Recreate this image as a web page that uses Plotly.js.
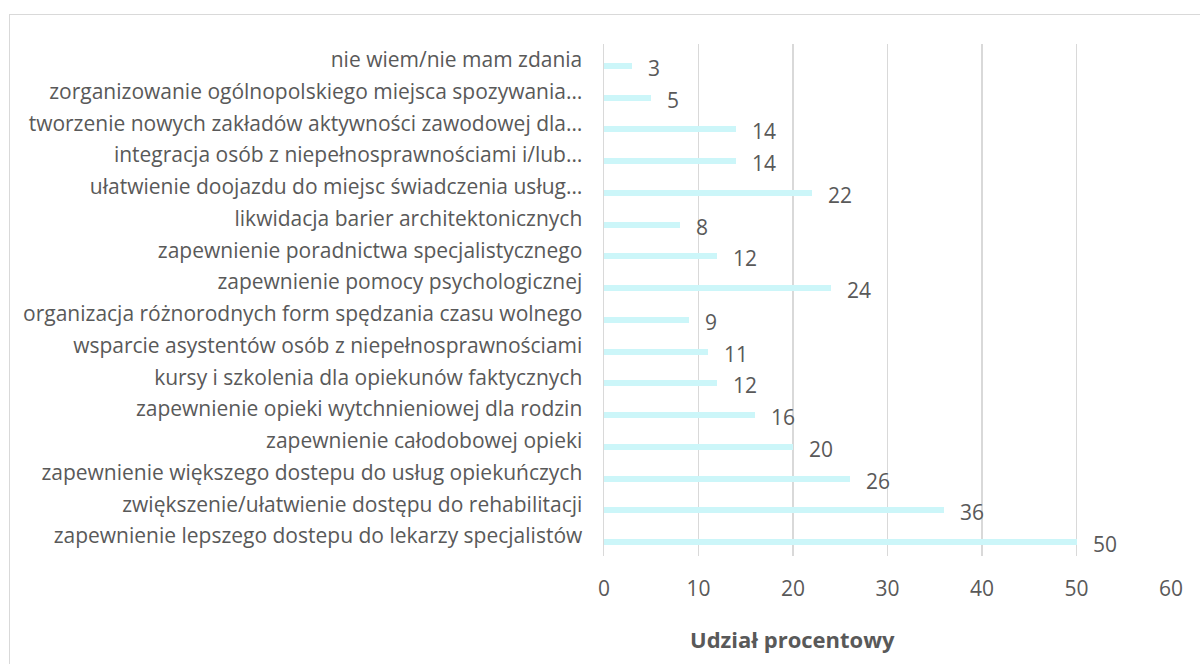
<!DOCTYPE html>
<html>
<head>
<meta charset="utf-8">
<script src="https://cdn.plot.ly/plotly-3.0.1.min.js"></script>
<style>
html,body{margin:0;padding:0;background:#fff;}
#wrap{position:relative;width:1200px;height:664px;overflow:hidden;}
#chart{position:absolute;left:0;top:0;width:1200px;height:664px;}
#frame{position:absolute;left:9px;top:14px;width:1200px;height:700px;border:1px solid #d9d9d9;pointer-events:none;}
</style>
</head>
<body>
<div id="wrap"><div id="chart"></div><div id="frame"></div></div>
<script>
const categories = [
  "nie wiem/nie mam zdania",
  "zorganizowanie ogólnopolskiego miejsca spozywania…",
  "tworzenie nowych zakładów aktywności zawodowej dla…",
  "integracja osób z niepełnosprawnościami i/lub…",
  "ułatwienie doojazdu do miejsc świadczenia usług…",
  "likwidacja barier architektonicznych",
  "zapewnienie poradnictwa specjalistycznego",
  "zapewnienie pomocy psychologicznej",
  "organizacja różnorodnych form spędzania czasu wolnego",
  "wsparcie asystentów osób z niepełnosprawnościami",
  "kursy i szkolenia dla opiekunów faktycznych",
  "zapewnienie opieki wytchnieniowej dla rodzin",
  "zapewnienie całodobowej opieki",
  "zapewnienie większego dostepu do usług opiekuńczych",
  "zwiększenie/ułatwienie dostępu do rehabilitacji",
  "zapewnienie lepszego dostepu do lekarzy specjalistów"
];
const values = [3, 5, 14, 14, 22, 8, 12, 24, 9, 11, 12, 16, 20, 26, 36, 50];
const xTicks = [0, 10, 20, 30, 40, 50, 60];
const axisTitle = "Udział procentowy";

const FONT = "'Open Sans', 'Liberation Sans', sans-serif";
const TXT = "#595959";
const barWidth = 0.19;
const barOffset = 0.094;

const trace = {
  type: "bar",
  orientation: "h",
  x: values,
  y: categories,
  width: barWidth,
  offset: barOffset,
  marker: {color: "#ccf6f9", line: {width: 0}},
  hoverinfo: "x+y"
};

const annotations = values.map((v, i) => ({
  x: v,
  y: i + barOffset + barWidth / 2,
  xref: "x",
  yref: "y",
  text: String(v),
  showarrow: false,
  xanchor: "left",
  yanchor: "middle",
  xshift: 14,
  yshift: -2,
  font: {family: FONT, size: 21, color: TXT}
}));

annotations.push({
  xref: "paper",
  yref: "paper",
  x: 0.333,
  y: -0.162,
  xanchor: "center",
  yanchor: "middle",
  showarrow: false,
  text: "<b>" + axisTitle + "</b>",
  font: {family: FONT, size: 22, color: TXT}
});

const layout = {
  width: 1200,
  height: 664,
  margin: {l: 604, r: 29, t: 44, b: 108},
  paper_bgcolor: "rgba(0,0,0,0)",
  plot_bgcolor: "rgba(0,0,0,0)",
  showlegend: false,
  bargap: 0,
  xaxis: {
    range: [0, 60],
    tickvals: xTicks,
    ticktext: xTicks.map(String),
    showgrid: true,
    gridcolor: "#d9d9d9",
    gridwidth: 1.5,
    zeroline: false,
    showline: false,
    ticks: "outside",
    ticklen: 14,
    tickcolor: "rgba(0,0,0,0)",
    tickfont: {family: FONT, size: 21, color: TXT},
    fixedrange: true
  },
  yaxis: {
    type: "category",
    categoryorder: "array",
    categoryarray: categories,
    autorange: "reversed",
    showgrid: false,
    zeroline: false,
    showline: true,
    linecolor: "#d9d9d9",
    linewidth: 1.5,
    ticks: "outside",
    ticklen: 16,
    tickcolor: "rgba(0,0,0,0)",
    tickfont: {family: FONT, size: 21, color: TXT},
    fixedrange: true
  },
  annotations: annotations
};

Plotly.newPlot("chart", [trace], layout, {displayModeBar: false, staticPlot: true});
</script>
</body>
</html>
